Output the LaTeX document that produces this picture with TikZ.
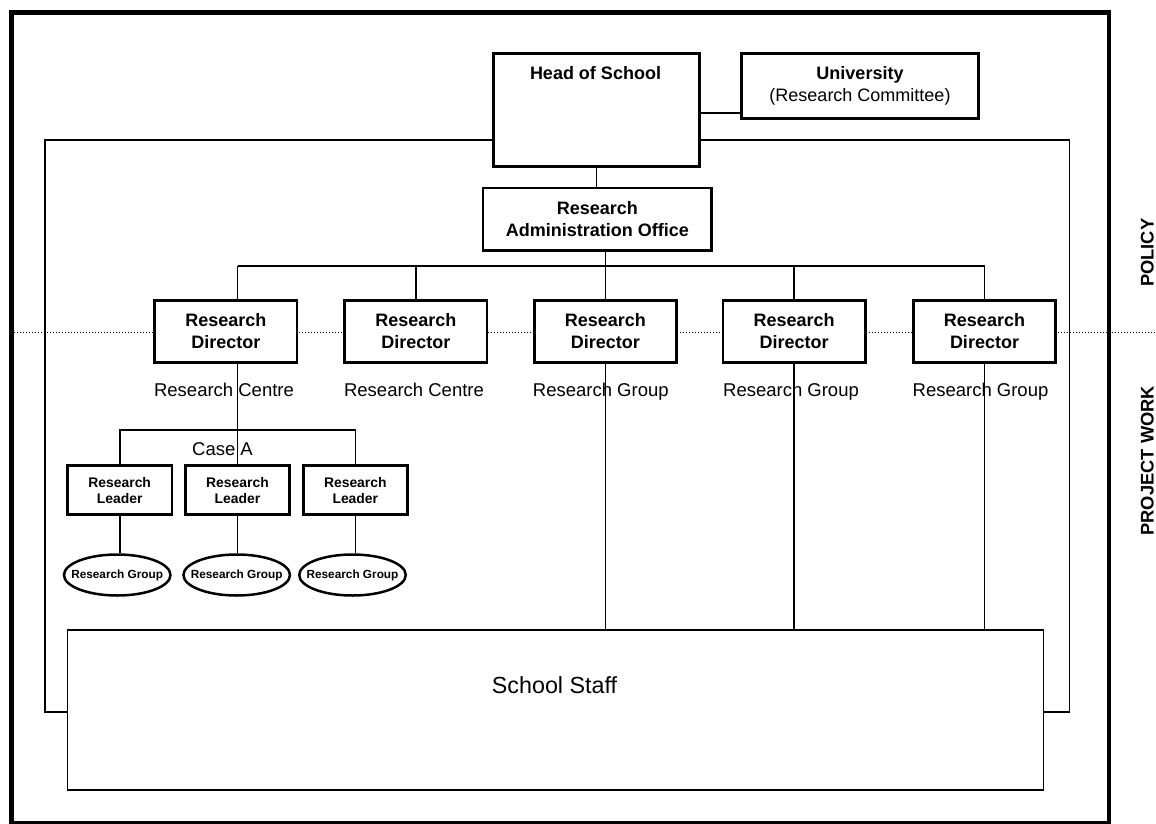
\documentclass[tikz,border=0pt]{standalone}
\usepackage{fontspec}
\setmainfont{Liberation Sans}
\usetikzlibrary{shapes.geometric}

\tikzset{
  thickbox/.style={draw, line width=2.7pt, fill=white, inner sep=0pt, align=center,
                   font=\bfseries\fontsize{18}{22}\selectfont},
  dirbox/.style={thickbox, minimum width=142.3pt, minimum height=62.3pt},
  leadbox/.style={thickbox, minimum width=104.3pt, minimum height=49pt,
                  font=\bfseries\fontsize{13.9}{16}\selectfont},
  groupell/.style={draw, ellipse, line width=2.5pt, fill=white, inner sep=0pt,
                   minimum width=106.5pt, minimum height=41pt},
  groupname/.style={inner sep=0pt, font=\bfseries\fontsize{11.8}{14}\selectfont},
  thin/.style={line width=1.6pt},
  plainlabel/.style={anchor=base, inner sep=0pt, font=\fontsize{18.5}{22}\selectfont},
  sidelabel/.style={rotate=90, inner sep=0pt, font=\bfseries\fontsize{18.3}{22}\selectfont},
}

\begin{document}
\begin{tikzpicture}[x=1pt, y=-1pt]
\useasboundingbox (0,0) rectangle (1156,824);

% outer border and inner frame
\draw[line width=4.5pt] (11.5,12.5) rectangle (1109,823.5);
\draw[thin] (45,140) rectangle (1069.3,711.7);

% boundary between policy and project work
\draw[line width=1pt, dash pattern=on 1pt off 2pt] (14,332.5) -- (1156,332.5);

% boxes
\node[thickbox, minimum width=205.5pt, minimum height=113pt] (head) at (596.5,110) {};
\node[plainlabel, font=\bfseries\fontsize{18}{22}\selectfont] (headtxt) at (595.5,79.7) {Head of School};
\node[thickbox, minimum width=237.3pt, minimum height=65pt] (univ) at (860,86.2)
  {University\\\mdseries(Research Committee)};
\node[thickbox, minimum width=228.6pt, minimum height=62.3pt] (rao) at (597.3,219.2)
  {Research\\Administration Office};

\node[dirbox] (d1) at (225.8,331.3) {Research\\Director};
\node[dirbox] (d2) at (415.8,331.3) {Research\\Director};
\node[dirbox] (d3) at (605.3,331.3) {Research\\Director};
\node[dirbox] (d4) at (794.2,331.3) {Research\\Director};
\node[dirbox] (d5) at (984.5,331.3) {Research\\Director};

\node[plainlabel] (c1) at (224,396.7) {Research Centre};
\node[plainlabel] (c2) at (414,396.7) {Research Centre};
\node[plainlabel] (g3) at (600.8,396.7) {Research Group};
\node[plainlabel] (g4) at (791,396.7) {Research Group};
\node[plainlabel] (g5) at (980.5,396.7) {Research Group};

\node[leadbox] (l1) at (119.7,490.2) {Research\\Leader};
\node[leadbox] (l2) at (237.5,490.2) {Research\\Leader};
\node[leadbox] (l3) at (355.3,490.2) {Research\\Leader};
\node[plainlabel] (casea) at (222.5,455) {Case A};

\node[groupell] (e1) at (117.2,575) {};
\node[groupell] (e2) at (236.7,575) {};
\node[groupell] (e3) at (352.5,575) {};
\node[groupname] (e1t) at (e1) {Research Group};
\node[groupname] (e2t) at (e2) {Research Group};
\node[groupname] (e3t) at (e3) {Research Group};

\node[draw, thin, fill=white, minimum width=976pt, minimum height=160pt] (staff) at (555.5,710.2) {};
\node[plainlabel, font=\fontsize{23.3}{26}\selectfont] (stafftxt) at (554.5,693.3) {School Staff};

\node[sidelabel] (policy) at (1147.3,252.7) {POLICY};
\node[sidelabel] (project) at (1147.3,460.7) {PROJECT WORK};

% connectors
\coordinate (bus) at (0,266.2);
\coordinate (sub) at (0,430);
\begin{scope}[thin]
\draw (head.east |- 0,113.3) -- (univ.west |- 0,113.3);
\draw (head.south) -- (head.south |- rao.north);
\draw (d3.north |- rao.south) -- (d3.north);
\draw (l2.north |- bus) -- (d5.north |- bus);
\draw (l2.north |- bus) -- (l2.north |- d1.north);
\draw (d2.north |- bus) -- (d2.north);
\draw (d4.north |- bus) -- (d4.north);
\draw (d5.north |- bus) -- (d5.north);
\draw (l2.north |- d1.south) -- (l2.north);
\draw (l1.north) -- (l1.north |- sub) -- (l3.north |- sub) -- (l3.north);
\draw (l1.south) -- (l1.south |- e1.north);
\draw (l2.south) -- (l2.south |- e2.north);
\draw (l3.south) -- (l3.south |- e3.north);
\draw (d3.south) -- (d3.south |- staff.north);
\draw (d4.south) -- (d4.south |- staff.north);
\draw (d5.south) -- (d5.south |- staff.north);
\end{scope}
\end{tikzpicture}
\end{document}
